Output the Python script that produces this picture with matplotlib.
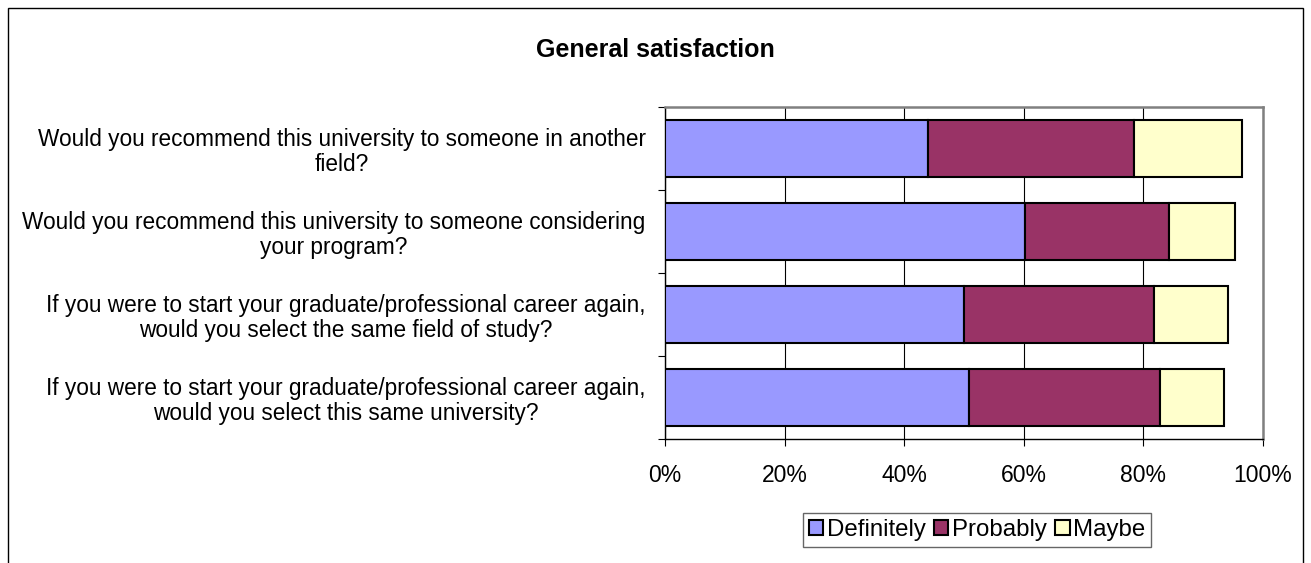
"""General satisfaction stacked bar chart."""

import matplotlib.pyplot as plt
import numpy as np
from matplotlib import ticker
from matplotlib.patches import Rectangle

plt.rcParams['font.family'] = ['Liberation Sans', 'DejaVu Sans']

# top to bottom
questions = [
    'Would you recommend this university to someone in another\nfield?',
    'Would you recommend this university to someone considering\nyour program?',
    'If you were to start your graduate/professional career again,\nwould you select the same field of study?',
    'If you were to start your graduate/professional career again,\nwould you select this same university?',
]
series_names = ['Definitely', 'Probably', 'Maybe']
definitely = [44.0, 60.2, 50.0, 50.8]
probably = [34.5, 24.0, 31.8, 32.0]
maybe = [18.0, 11.1, 12.4, 10.6]
colors = ['#9999ff', '#993366', '#ffffcc']

W, H = 1311, 563


def main():
    fig = plt.figure(figsize=(W / 100, H / 100), dpi=100)
    ax = fig.add_axes([665 / W, 1 - 439 / H, 598 / W, 332 / H])

    # outer chart border (bottom runs off the image)
    fig.patches.append(Rectangle((8 / W, -0.05), 1295 / W, 1.05 - 8 / H,
                                 transform=fig.transFigure, fill=False,
                                 edgecolor='black', linewidth=1.0))

    y = np.arange(len(questions))[::-1]
    left = np.zeros(len(questions))
    for name, vals, col in zip(series_names, [definitely, probably, maybe], colors):
        ax.barh(y, vals, left=left, height=0.675, color=col,
                edgecolor='black', linewidth=1.5, label=name, zorder=3)
        left += np.array(vals)

    ax.set_xlim(0, 100)
    ax.set_ylim(-0.5, len(questions) - 0.5)
    ax.xaxis.set_major_locator(ticker.MultipleLocator(20))
    ax.xaxis.set_major_formatter(ticker.FuncFormatter(lambda v, _: f'{v:.0f}%'))
    ax.grid(axis='x', color='black', linewidth=0.8, zorder=0)

    ax.set_yticks(y)
    ax.set_yticklabels(questions, fontsize=16.3, ha='right',
                       multialignment='center', linespacing=1.1)
    ax.yaxis.set_minor_locator(ticker.FixedLocator(np.arange(-0.5, len(questions), 1)))
    ax.tick_params(axis='y', which='major', length=0, pad=14)
    ax.tick_params(axis='y', which='minor', length=5, width=0.8, direction='out')
    ax.tick_params(axis='x', length=5, width=0.8, direction='out', labelsize=16.5, pad=13)

    for side in ['top', 'right']:
        ax.spines[side].set_color('#808080')
        ax.spines[side].set_linewidth(1.8)
    for side in ['left', 'bottom']:
        ax.spines[side].set_color('black')
        ax.spines[side].set_linewidth(1.0)

    fig.text(0.5, 1 - 50 / H, 'General satisfaction', ha='center', va='center',
             fontsize=18, fontweight='bold')

    leg = fig.legend(loc='center', bbox_to_anchor=(977 / W, 1 - 530 / H),
                     ncol=3, fontsize=17.3, frameon=True, fancybox=False,
                     handlelength=0.6, handleheight=0.6, handletextpad=0.15,
                     columnspacing=0.35, borderpad=0.25, borderaxespad=0)
    leg.get_frame().set_edgecolor('#404040')
    leg.get_frame().set_linewidth(1.0)

    fig.savefig('out.png', dpi=100)
    plt.close()


if __name__ == '__main__':
    main()
